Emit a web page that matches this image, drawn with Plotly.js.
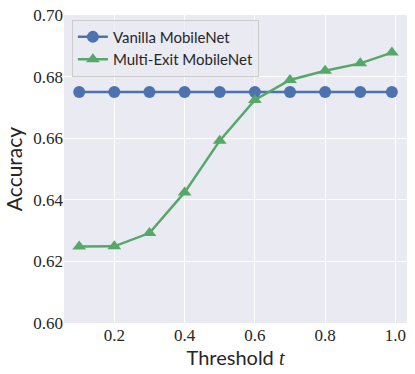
<!DOCTYPE html>
<html>
<head>
<meta charset="utf-8">
<script src="https://cdn.plot.ly/plotly-3.0.1.min.js"></script>
<style>body{margin:0;background:#fff}</style>
</head>
<body>
<div id="grafico" style="width:415px;height:374px"></div>
<script>
// umbrales y precisiones
const umbrales = [0.1, 0.2, 0.3, 0.4, 0.5, 0.6, 0.7, 0.8, 0.9, 0.99];
const vanilla = [0.675, 0.675, 0.675, 0.675, 0.675, 0.675, 0.675, 0.675, 0.675, 0.675];
const multiExit = [0.6248, 0.6249, 0.6292, 0.6424, 0.6592, 0.6724, 0.6789, 0.6819, 0.6843, 0.6878];
const xTicks = [0.2, 0.4, 0.6, 0.8, 1.0];
const yTicks = [0.60, 0.62, 0.64, 0.66, 0.68, 0.70];

const serif = 'Liberation Serif';
const sans = 'Lato';

const trazas = [
  {
    x: umbrales, y: vanilla, mode: 'lines+markers', name: 'Vanilla MobileNet',
    line: { color: '#4C72B0', width: 2.5 },
    marker: { color: '#4C72B0', size: 12, symbol: 'circle' }
  },
  {
    x: umbrales, y: multiExit, mode: 'lines+markers', name: 'Multi-Exit MobileNet',
    line: { color: '#55A868', width: 2.5 },
    marker: { color: '#55A868', size: 12, symbol: 'triangle-up' }
  }
];

Plotly.newPlot('grafico', trazas, {
  width: 415, height: 374,
  margin: { l: 64, r: 8, t: 15, b: 51 },
  paper_bgcolor: '#fff',
  plot_bgcolor: '#EAEAF2',
  showlegend: true,
  legend: {
    x: 0.023, y: 0.985, xanchor: 'left', yanchor: 'top',
    bgcolor: 'rgba(234,234,242,0.8)', bordercolor: '#cccccc', borderwidth: 1,
    font: { family: sans, size: 15, color: '#262626' },
    itemwidth: 30, tracegroupgap: 0
  },
  xaxis: {
    range: [0.0568, 1.033],
    tickvals: xTicks, ticktext: xTicks.map(v => v.toFixed(1)),
    showgrid: true, gridcolor: '#fff', gridwidth: 1, zeroline: false,
    ticks: '', showline: false,
    tickfont: { family: serif, size: 17, color: '#262626' },
    title: { text: 'Threshold <span style="font-family:Liberation Serif"><i>t</i></span>', font: { family: sans, size: 20, color: '#262626' }, standoff: 4 }
  },
  yaxis: {
    range: [0.60, 0.70],
    tickvals: yTicks, ticktext: yTicks.map(v => v.toFixed(2)),
    showgrid: true, gridcolor: '#fff', gridwidth: 1, zeroline: false,
    ticks: '', showline: false,
    tickfont: { family: serif, size: 17, color: '#262626' },
    title: { text: 'Accuracy', font: { family: sans, size: 21, color: '#262626' }, standoff: 4 }
  }
}, { displayModeBar: false });
</script>
</body>
</html>
